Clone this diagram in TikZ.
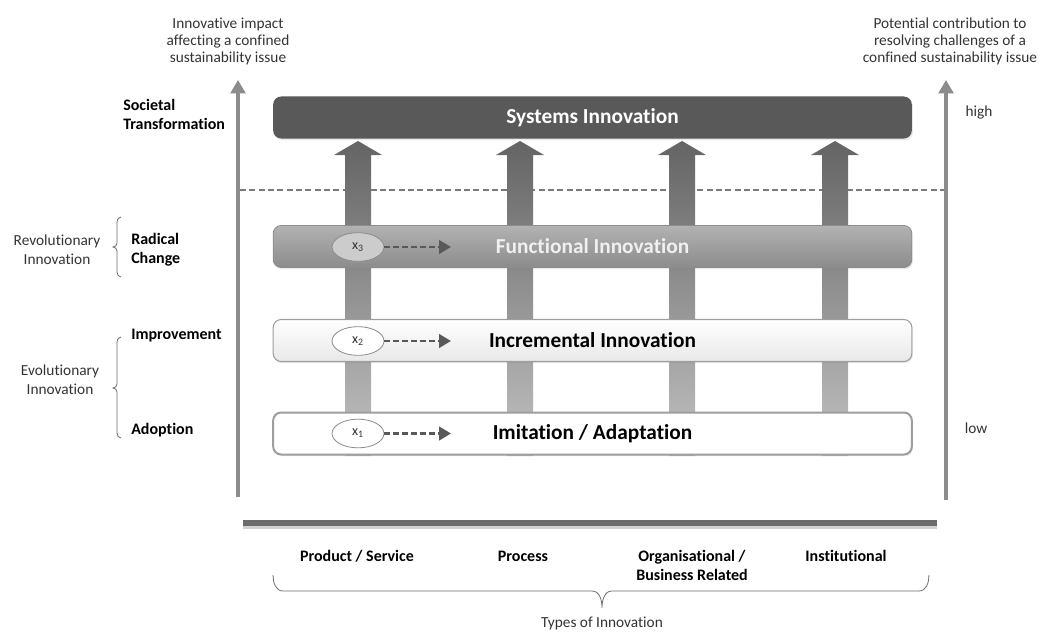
\documentclass[tikz,border=0pt]{standalone}
\usepackage{fontspec}
\setmainfont{Carlito}[Ligatures=NoCommon]
\usetikzlibrary{positioning,arrows.meta,shapes.geometric,shadows}
\definecolor{SlateGrey}{HTML}{595959}
\definecolor{AxisGrey}{HTML}{8C8C8C}
\definecolor{RuleGrey}{HTML}{6B6B6B}
\definecolor{FuncTop}{HTML}{B2B2B2}
\definecolor{FuncBot}{HTML}{8C8C8C}
\definecolor{EdgeGrey}{HTML}{9E9E9E}
\definecolor{ColTop}{HTML}{646464}
\definecolor{ColBot}{HTML}{C2C2C2}
\definecolor{NoteGrey}{HTML}{333333}

\begin{document}
\begin{tikzpicture}[x=0.75pt, y=-0.75pt,
  layer/.style  = {rounded corners=6pt, minimum width=479pt, minimum height=31.5pt,
                   inner sep=0pt, font=\fontsize{16}{19}\selectfont\bfseries,
                   drop shadow={opacity=0.18, shadow xshift=0.8pt, shadow yshift=-1.3pt}},
  tag/.style    = {ellipse, draw=AxisGrey, line width=0.6pt, minimum width=39pt,
                   minimum height=21.5pt, inner sep=0pt, text=NoteGrey,
                   font=\fontsize{10.5}{12}\selectfont},
  dasharr/.style= {-{Triangle[length=9pt,width=10pt]}, line width=2.2pt, SlateGrey,
                   dash pattern=on 4.5pt off 2.2pt},
  axis/.style   = {-{Triangle[length=10pt,width=11pt]}, line width=3pt, AxisGrey},
  lvl/.style    = {anchor=west, align=left, inner sep=0pt,
                   font=\fontsize{12}{14.25}\selectfont\bfseries},
  kind/.style   = {align=center, inner sep=0pt,
                   font=\fontsize{12}{14.25}\selectfont\bfseries},
  note/.style   = {align=center, inner sep=0pt, text=NoteGrey,
                   font=\fontsize{11.5}{14.25}\selectfont},
  brc/.style    = {draw=RuleGrey, line width=0.6pt}
]
  \useasboundingbox (0,0) rectangle (1042,635);

  % axes
  \coordinate (lax0) at (238,497);
  \coordinate (lax1) at (238,80);
  \coordinate (rax0) at (946,500);
  \coordinate (rax1) at (946,80);
  \draw[axis] (lax0) -- (lax1);
  \draw[axis] (rax0) -- (rax1);

  \coordinate (bar0) at (243,523);
  \coordinate (bar1) at (937,523);
  \draw[line width=6pt, black!18] ([yshift=-1.5pt]bar0) -- ([yshift=-1.5pt]bar1);
  \draw[line width=3.8pt, RuleGrey] (bar0) -- (bar1);

  \coordinate (dl0) at (240,190);
  \coordinate (dl1) at (944,190);
  \draw[RuleGrey!90, line width=1.1pt, dash pattern=on 4.5pt off 2.5pt] (dl0) -- (dl1);

  % upward columns, one per type of innovation
  \foreach \cx in {358,520,682,835}
    \shade[top color=ColTop, bottom color=ColBot]
      (\cx-13,456) -- (\cx-13,155) -- (\cx-24,155) -- (\cx,141)
      -- (\cx+24,155) -- (\cx+13,155) -- (\cx+13,456) -- cycle;

  % innovation levels
  \node[layer, fill=SlateGrey, text=white] (sys) at (592.5,117.5) {Systems Innovation};
  \node[layer, top color=FuncTop, bottom color=FuncBot, draw=FuncBot, line width=0.6pt,
        text=white!94!black] (func) at (592.5,246.5) {Functional Innovation};
  \node[layer, top color=white, bottom color=black!9, draw=EdgeGrey, line width=0.8pt]
        (incr) at (592.5,340.5) {Incremental Innovation};
  \node[layer, fill=white, draw=EdgeGrey, line width=1.5pt]
        (imit) at (592.5,433.5) {Imitation / Adaptation};

  \node[tag, fill=black!20] (x3) at (358,247) {x\textsubscript{3}};
  \node[tag, fill=white] (x2) at (358,341) {x\textsubscript{2}};
  \node[tag, fill=white] (x1) at (358,433.5) {x\textsubscript{1}};
  \foreach \k in {1,2,3} {
    \coordinate[right=50pt of x\k.east] (x\k e);
    \draw[dasharr] (x\k) -- (x\k e);
  }

  % left hand scale
  \node[lvl] (soc) at (123,114) {Societal\\Transformation};
  \node[lvl] (rad) at (131,250) {Radical\\Change};
  \node[lvl] (imp) at (131,336) {Improvement};
  \node[lvl] (ado) at (131,430) {Adoption};
  \node[note] (rev) at (57,250) {Revolutionary\\Innovation};
  \node[note] (evo) at (60,380) {Evolutionary\\Innovation};
  \draw[brc] (121,217) to[out=180,in=90] (117,222) -- (117,243)
    to[out=-90,in=0] (113,247) to[out=0,in=90] (117,251) -- (117,272)
    to[out=-90,in=180] (121,277);
  \draw[brc] (121,337) to[out=180,in=90] (117,342) -- (117,384)
    to[out=-90,in=0] (113,388) to[out=0,in=90] (117,392) -- (117,433)
    to[out=-90,in=180] (121,438);

  \node[note, font=\fontsize{11.5}{12.75}\selectfont] (leftax) at (228,41)
    {Innovative impact\\affecting a confined\\sustainability issue};
  \node[note, font=\fontsize{11.5}{12.75}\selectfont] (rightax) at (950,41)
    {Potential contribution to\\resolving challenges of a\\confined sustainability issue};
  \node[note] (hi) at (979,112) {high};
  \node[note] (lo) at (976,428) {low};

  % types along the bottom
  \node[kind] (prod) at (357,556) {Product / Service};
  \node[kind] (proc) at (523,556) {Process};
  \node[kind] (org)  at (692,565.5) {Organisational /\\Business Related};
  \node[kind] (inst) at (846,556) {Institutional};
  \draw[brc] (273,575) to[out=-90,in=180] (283,591) -- (592,591)
    to[out=0,in=90] (602,608) to[out=90,in=180] (612,591) -- (919,591)
    to[out=0,in=-90] (929,575);
  \node[note] (types) at (602,623) {Types of Innovation};
\end{tikzpicture}
\end{document}
